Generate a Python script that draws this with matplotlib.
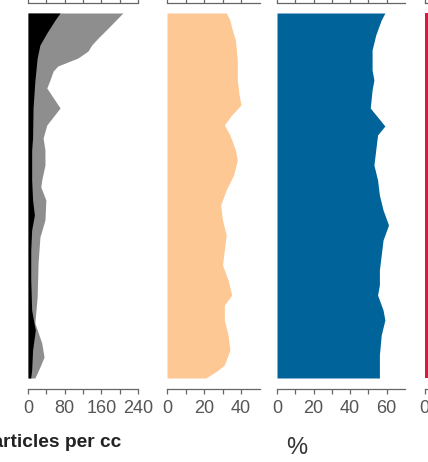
import matplotlib.pyplot as plt

plt.rcParams['font.family'] = ['Liberation Sans', 'DejaVu Sans']

# depth (arbitrary units, 0 = top of core) and values
black_depth = [0, 7, 20, 32, 45, 68, 95, 125, 137, 167, 187, 202, 217, 237, 267, 297, 317, 337, 357, 365]
black_vals = [70, 59, 41, 26, 20, 15, 11, 10, 8, 8, 10, 14, 8, 6, 6, 8, 16, 10, 8, 6]

gray_depth = [0, 15, 25, 32, 38, 45, 53, 58, 67, 75, 95, 112, 125, 137, 152, 167, 174, 187,
              207, 224, 250, 284, 310, 330, 344, 354, 365]
gray_vals = [207, 175, 153, 139, 131, 109, 65, 55, 48, 41, 70, 41, 33, 37, 37, 30, 28, 39,
             37, 26, 22, 20, 15, 30, 35, 26, 15]

peach_depth = [0, 7, 15, 27, 47, 67, 82, 92, 102, 112, 122, 137, 147, 162, 177, 192, 207,
               222, 237, 252, 267, 282, 292, 307, 322, 337, 352, 358, 365]
peach_vals = [32, 34, 35, 37, 38, 38, 39, 40, 35, 31, 34, 37, 38, 36, 32, 29, 30, 32, 31,
              30, 33, 35, 31, 31, 33, 34, 31, 27, 21]

blue_depth = [0, 7, 22, 37, 57, 67, 77, 95, 113, 122, 137, 152, 167, 182, 197, 212, 227,
              242, 257, 272, 282, 297, 307, 322, 342, 365]
blue_vals = [59, 57, 54, 52, 52, 53, 52, 51, 59, 55, 54, 53, 55, 56, 58, 61, 58, 57, 56,
             56, 55, 58, 59, 57, 56, 56]

red_depth = [0, 180, 365]
red_vals = [20, 20, 20]

W, H = 428, 462
fig = plt.figure(figsize=(W / 100, H / 100), dpi=100)


def add_panel(left_px, width_px, xmax, ticks, labels):
    ax = fig.add_axes([left_px / W, 84 / H, width_px / W, 365 / H])
    ax.set_xlim(0, xmax)
    ax.set_ylim(365, 0)
    for s in ['left', 'right']:
        ax.spines[s].set_visible(False)
    ax.spines['bottom'].set_position(('outward', 7.9))
    ax.spines['top'].set_position(('outward', 7.2))
    for s in ['bottom', 'top']:
        ax.spines[s].set_color('#666666')
        ax.spines[s].set_linewidth(0.9)
    ax.set_yticks([])
    ax.set_xticks(ticks, labels=labels)
    ax.tick_params(axis='x', direction='out', length=3.6, width=0.9, color='#666666',
                   labelsize=13, labelcolor='#555555', pad=4.5, top=True, labeltop=False)
    return ax


ax1 = add_panel(28, 110, 240, [0, 40, 80, 120, 160, 200, 240],
                ['0', '', '80', '', '160', '', '240'])
ax1.fill_betweenx(gray_depth, 0, gray_vals, color='#8e8e8e', lw=0)
ax1.fill_betweenx(black_depth, 0, black_vals, color='black', lw=0)

ax2 = add_panel(167, 92.5, 50, [0, 10, 20, 30, 40], ['0', '', '20', '', '40'])
ax2.fill_betweenx(peach_depth, 0, peach_vals, color='#fdc894', lw=0)

ax3 = add_panel(277, 128, 70, [0, 10, 20, 30, 40, 50, 60], ['0', '', '20', '', '40', '', '60'])
ax3.fill_betweenx(blue_depth, 0, blue_vals, color='#006399', lw=0)

ax4 = add_panel(424.5, 100, 50, [0, 10, 20, 30, 40], ['0', '', '20', '', '40'])
ax4.fill_betweenx(red_depth, 0, red_vals, color='#d61a3f', lw=0)

fig.text(121 / W, 1 - 447 / H, 'Particles per cc', ha='right', va='baseline',
         fontsize=13.8, fontweight='bold', color='#222222')
fig.text(297 / W, 1 - 448 / H, '%', ha='center', va='center', fontsize=17, color='#333333')

fig.savefig('out.png', dpi=100)
